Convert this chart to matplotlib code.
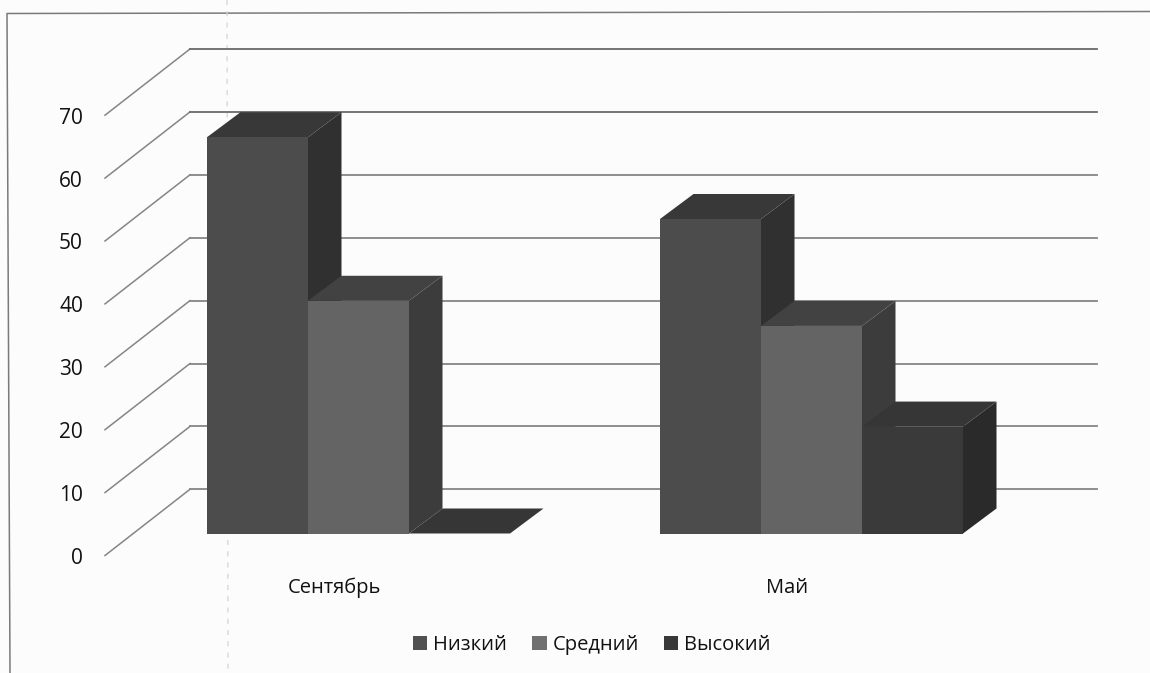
import matplotlib
matplotlib.use("Agg")
import matplotlib.pyplot as plt
from matplotlib.patches import Polygon, Patch
from matplotlib.transforms import Affine2D

plt.rcParams['font.family'] = ['Open Sans', 'DejaVu Sans']

categories = ['Сентябрь', 'Май']
series_names = ['Низкий', 'Средний', 'Высокий']
low = [63, 50]
mid = [37, 33]
high = [0, 17]
y_ticks = [0, 10, 20, 30, 40, 50, 60, 70]

front_colors = ['#4c4c4c', '#646464', '#3a3a3a']
top_colors = ['#383838', '#424242', '#363636']
side_colors = ['#303030', '#3c3c3c', '#2a2a2a']
legend_colors = ['#505050', '#707070', '#383838']
ink = '#111111'
grid = '#858585'

W, H = 1150, 673
PX_PER_UNIT = 6.29       # pixels per value unit
BASE_PX = 533.5          # row of value 0 on the bars' front plane
CAT_PX = [358.5, 811.5]  # columns of the category centres
CAT_STEP = CAT_PX[1] - CAT_PX[0]
BAR_W = 101 / CAT_STEP
DEPTH = (33.5, 25)       # bar depth, in pixels
WALL_FRONT = (105, 22)   # left x, drop under the bar plane
WALL_BACK = (190, -44.2)
WALL_RIGHT = 1097

fig = plt.figure(figsize=(W / 100, H / 100), dpi=100, facecolor='#fcfcfc')
ax = fig.add_axes([0, 0, 1, 1])
ax.set_xlim((0 - CAT_PX[0]) / CAT_STEP, (W - CAT_PX[0]) / CAT_STEP)
ax.set_ylim((BASE_PX - H) / PX_PER_UNIT, BASE_PX / PX_PER_UNIT)
ax.axis('off')


def px_x(px):
    return (px - CAT_PX[0]) / CAT_STEP


# chart frame and the scanned page's fold (behind the chart)
pix = Affine2D().scale(1, -1).translate(0, H)
ax.plot([10, 7, W], [H, 13.5, 11.5], color='#7a7a7a', lw=1.1, transform=pix, zorder=0)
ax.plot([227, 228], [0, H], color='#d4d4d4', lw=0.9, ls=(0, (4, 5)), transform=pix, zorder=0)

# walls: diagonals on the left side, horizontals on the back
for t in y_ticks:
    ax.plot([px_x(WALL_FRONT[0]), px_x(WALL_BACK[0])],
            [t - WALL_FRONT[1] / PX_PER_UNIT, t - WALL_BACK[1] / PX_PER_UNIT],
            color=grid, lw=1.1, zorder=1)
    ax.plot([px_x(WALL_BACK[0]), px_x(WALL_RIGHT)],
            [t - WALL_BACK[1] / PX_PER_UNIT] * 2,
            color='#6a6a6a' if t >= 60 else grid, lw=1.3, zorder=1)
    ax.text(px_x(83), t - (WALL_FRONT[1] + 3) / PX_PER_UNIT, str(t), ha='right',
            va='center', fontsize=15, color=ink)

# bars
for c in range(len(categories)):
    for s, values in enumerate([low, mid, high]):
        x0 = c + (s - 1.5) * BAR_W
        x1 = x0 + BAR_W
        v = values[c]
        z = 3
        dx = DEPTH[0] / CAT_STEP
        dy = DEPTH[1] / PX_PER_UNIT
        ax.add_patch(Polygon([(x1, 0), (x1 + dx, dy), (x1 + dx, v + dy), (x1, v)],
                             closed=True, fc=side_colors[s], ec='none', zorder=z))
        ax.add_patch(Polygon([(x0, v), (x1, v), (x1 + dx, v + dy), (x0 + dx, v + dy)],
                             closed=True, fc=top_colors[s], ec='none', zorder=z))
        ax.bar(x0, v, width=BAR_W, align='edge', color=front_colors[s], zorder=z)

# category labels
for c, label in enumerate(categories):
    ax.text(c - 24 / CAT_STEP, (BASE_PX - 588) / PX_PER_UNIT, label, ha='center',
            va='center', fontsize=14.5, color=ink)

# legend
handles = [Patch(fc=col, ec='none') for col in legend_colors]
ax.legend(handles, series_names, ncol=3, frameon=False, fontsize=14.5,
          loc='center', bbox_to_anchor=(592 / W, 1 - 645 / H),
          handlelength=0.7, handleheight=0.7, handletextpad=0.3,
          columnspacing=1.25, labelcolor=ink, borderpad=0)

fig.savefig('out.png', dpi=100, facecolor=fig.get_facecolor())
